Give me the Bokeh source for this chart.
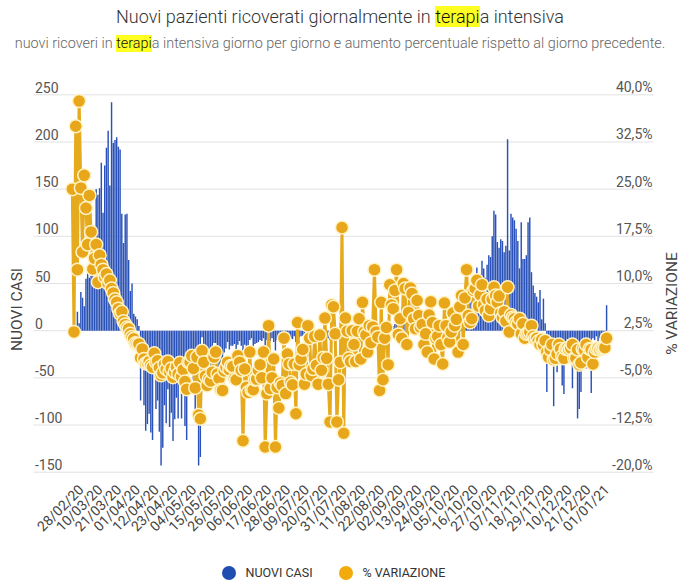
import math
import pandas as pd
from bokeh.plotting import figure
from bokeh.models import (Range1d, ColumnDataSource, Legend, LegendItem, Div)
from bokeh.layouts import column
from bokeh.embed import file_html
from bokeh.resources import INLINE
from bokeh.core.properties import value

# ---------------- data ----------------
TITLE = "Nuovi pazienti ricoverati giornalmente in terapia intensiva"
SUBTITLE = ("nuovi ricoveri in terapia intensiva giorno per giorno e aumento "
            "percentuale rispetto al giorno precedente.")
HIGHLIGHT = "terapi"
START_DATE = "2020-02-24"

nuovi_casi = [
    0, 9, 1, 20, 8, 41, 35, 26, 55, 62,
    56, 60, 65, 58, 150, 144, 151, 178, 125, 175,
    194, 212, 154, 242, 199, 202, 205, 195, 192, 124,
    93, 123, 124, 75, 42, 50, 18, 15, 12, 5,
    -74, -17, -79, -106, -99, -88, -108, -116, -38, -83,
    -74, -107, -143, -124, -79, -98, -62, -102, -87, -117,
    -94, -71, -93, -53, -93, -68, -101, -116, -39, -38,
    -22, -52, -94, -22, -143, -134, -7, -28, -47, -59,
    -38, -47, -33, -13, -13, -33, -40, -36, -45, -23,
    -19, -12, -20, -16, -16, -14, -25, -15,
    -11, -16, -55, -15, -22, -23, -10, -8, -20, -14,
    -13, -12, -10, -11, -8, -29, -10, -9, -11, -8,
    -12, -21, -10, -9, -8, -10, -7, -9, -6, -5,
    -8, -9, -6, -12, -4, -7, -6, -5, -9, -7,
    -3, -4, -8, -7, -3, -6, -9, -3, -7, -5,
    -2, -5, -8, -10, -2, -1, -3, -8, -6, -4,
    2,
    -6, 2, 1, -1, -1, 1, 0, -1, 1, 3,
    -1, 4, 1, 1, 0, 2, 0, 2, 7, 1,
    1, -5, 5, -4, 1, 2, -2, 7, 5, 5,
    7,
    11, 2, 5, 1, 12, 11, 0, 7, 12, 11,
    7, 4, 14, 10, 7, 8, 1, 4, -2, 12,
    17, 9, -5, 3, 4, 8, 1, -7, 17, 9,
    4, 2, 7, 16, 11, 14, -3, 21, 29, 1,
    20, 28, 35, 30, 45, 50, 55, 67, 52, 60,
    74, 66, 56, 70, 80, 78, 100, 127, 123, 94,
    88, 97, 95, 83, 90, 203, 85, 124, 120, 117,
    108, 95, 66, 115, 76, 76, 80, 115, 120, 62,
    48, 40, 36, 30, 43, 12, 34, 8,
    -65, -10, -12, -15, -80, -12, -44, -10, -8, -58,
    -67, -12, -9, -15, -10, -61, -14, -12, -93, -83,
    -65, -10, -14, -40, -9, -12, -66, -8, -10, -6,
    -12, -8, -5, -6, -4, 27,
]

variazione = [
    25.0, 2.3, 35.0, 12.2, 39.0, 25.2, 15.0, 27.2, 22.0, 16.2,
    24.0, 18.2, 12.3, 14.0, 16.2, 10.2, 14.5, 13.0, 12.2, 11.0,
    11.5, 10.0, 10.5, 9.2, 8.5, 7.5, 7.0, 6.0, 5.2, 5.5,
    4.0, 3.5, 3.0, 2.8, 2.0, 1.5, 1.2, 0.5, 0.4, 0.4,
    -1.8,
    -0.4, -2.0, -2.7, -2.6, -2.4, -3.0, -3.3, -1.1, -2.5, -2.3,
    -3.4, -4.6, -4.2, -2.8, -3.6, -2.4, -4.0, -3.5, -4.9, -4.1,
    -3.3, -4.4, -2.6, -4.8, -3.7, -5.6, -6.8, -2.5, -2.5, -1.5,
    -3.5, -6.6, -1.7, -10.9, -11.5,
    -0.7, -2.5, -4.7, -6.2, -5.2, -5.5, -4.1, -1.7, -0.9, -4.4,
    -5.1, -6.9, -7.0, -3.9, -3.3, -2.5, -3.7, -3.1, -3.2, -5.1,
    -5.3, -1.5,
    -2.5, -3.8, -15.0, -3.6, -6.5, -7.3, -0.9, -6.9, -6.9, -5.3,
    -5.2, -3.8, -2.9, -5.0, -0.9, -16.0, -7.5, 3.3, -6.7, -5.0,
    -2.0, -16.0, -6.5, -9.8, -5.8, -6.2, 1.3, -7.5, -1.2, -2.8,
    -5.7, -6.1, -2.8, -10.7, 3.8, -2.9, -2.0, -0.5, -6.0, -4.4,
    3.3, 1.3, -4.6, -3.6, 1.6, -3.0, -6.0, 1.8, -3.8, -1.8,
    4.5, -1.9, -6.0, -12.0, 6.6, 6.3, 2.0, -12.0, -5.3, -2.5,
    18.9, -13.8, 4.5,
    2.4, -1.9, -2.4, 2.5, 0.3, -2.4, 2.4, 4.4, -2.0, 7.0,
    2.3, 1.8, -0.9, 3.3, 0.6, 3.1, 12.2, 2.3, 1.5, -7.0,
    7.0, -5.3, 1.3, 3.0, -2.9, 9.8, 6.6, 6.0, 8.9,
    12.2, 1.9, 4.4, 1.3, 10.0, 9.2, 0.3, 5.4, 9.3, 8.4,
    4.4, 2.8, 7.3, 4.9, 3.0, 3.5, 0.3, 2.0, -0.9, 5.0,
    7.1, 3.8, -2.0, 1.3, 1.6, 3.3, 0.3, -2.8, 6.9, 3.3,
    1.4, 0.7, 2.3, 5.3, 3.3, 4.3, -0.9, 6.3, 8.1, 0.3,
    7.7, 12.2, 4.9, 3.8, 4.4, 8.9, 9.2, 10.5, 6.4, 8.2,
    9.8, 6.6, 5.7, 7.5, 4.9, 6.0, 7.5, 9.4, 8.1, 7.0,
    8.0,
    5.3, 4.6, 5.5, 4.0, 9.4, 2.3, 5.0, 4.6, 4.4, 3.8,
    3.6, 4.4, 2.0, 3.6, 1.3, 2.0, 2.1, 2.3, 3.3, 1.6,
    1.2, 1.3, 0.8, 0.3, 1.1, 0.2, 0.9, -0.9, -1.7, -0.5,
    0.3, -2.1, -1.9, -1.2, 0.3, -0.4, -1.6, -1.9, -0.4, -0.3,
    -0.5, -0.3, 0.3, -1.9, -1.9, -0.5, -2.9, -2.6, -0.4, -0.6,
    0.3, -1.7, -0.4, -0.5, -2.8, -0.9, -0.4, -0.3, -0.5, -0.3,
    -0.2, -0.2, 1.3,
]

x_tick_labels = ["28/02/20", "10/03/20", "21/03/20", "01/04/20", "12/04/20",
                 "23/04/20", "04/05/20", "15/05/20", "26/05/20", "06/06/20",
                 "17/06/20", "28/06/20", "09/07/20", "20/07/20", "31/07/20",
                 "11/08/20", "22/08/20", "02/09/20", "13/09/20", "24/09/20",
                 "05/10/20", "16/10/20", "27/10/20", "07/11/20", "18/11/20",
                 "29/11/20", "10/12/20", "21/12/20", "01/01/21"]

left_ticks = [250, 200, 150, 100, 50, 0, -50, -100, -150]
left_tick_labels = ["250", "200", "150", "100", "50", "0", "-50", "-100", "-150"]
right_ticks = [40.0, 32.5, 25.0, 17.5, 10.0, 2.5, -5.0, -12.5, -20.0]
right_tick_labels = ["40,0%", "32,5%", "25,0%", "17,5%", "10,0%", "2,5%",
                     "-5,0%", "-12,5%", "-20,0%"]

SERIES_1 = "NUOVI CASI"
SERIES_2 = "% VARIAZIONE"

# ---------------- styling / layout ----------------
BLUE = "#2a52b8"
BLUE_LEG = "#1f4db0"
ORANGE = "#e8a71b"
ORANGE_LINE = "#e6aa1e"
ORANGE_LEG = "#f2aa0c"
FONT = "Roboto"
TXT = "#444444"

W, H_DIV, H = 680, 62, 518          # whole page = 680 x 580
PX_DAY = 1.707                       # horizontal pixels per day
X0_PX = 71.8                         # pixel of first day
PX_UNIT = 0.9435                     # vertical pixels per "nuovi casi" unit
Y250_PX = 94.3 - H_DIV               # pixel (inside the plot) of the 250 line

N = len(nuovi_casi)
dates = pd.date_range(START_DATE, periods=N)
date_str = [d.strftime("%d/%m/%y") for d in dates]
idx = list(range(N))
tick_pos = [date_str.index(lbl) for lbl in x_tick_labels]

x_start = -X0_PX / PX_DAY
x_end = x_start + W / PX_DAY
y_end = left_ticks[0] + Y250_PX / PX_UNIT
y_start = y_end - H / PX_UNIT


def to_pct(v):          # right axis: 0 -> 2.5 %, one unit -> 0.15 %
    return 2.5 + 0.15 * v


def px_x(px):           # pixel column -> data x
    return x_start + px / PX_DAY


def px_y(px):           # pixel row (page) -> data y (left units)
    return y_end - (px - H_DIV) / PX_UNIT


src = ColumnDataSource(dict(idx=idx, casi=nuovi_casi, var=variazione))

p = figure(width=W, height=H, x_range=Range1d(x_start, x_end),
           y_range=Range1d(y_start, y_end), x_axis_type=None,
           y_axis_type=None, output_backend="svg", toolbar_location=None,
           min_border=0)
p.extra_y_ranges = {"pct": Range1d(to_pct(y_start), to_pct(y_end))}
p.outline_line_color = None
p.background_fill_color = "white"

# horizontal grid lines of the chart area
gx0, gx1 = px_x(33), px_x(653)
p.segment(x0=[gx0] * len(left_ticks), x1=[gx1] * len(left_ticks),
          y0=left_ticks, y1=left_ticks, line_color="#e2e2e2", line_width=1)

# tick labels above the grid lines
p.text(x=[gx0] * len(left_ticks), y=left_ticks, text=left_tick_labels,
       x_offset=1.5, y_offset=-7.5, text_align="left",
       text_baseline="middle", text_font=value(FONT),
       text_font_size="14px", text_color="#555555")
p.text(x=[gx1] * len(right_ticks), y=right_ticks, text=right_tick_labels,
       y_range_name="pct", x_offset=-1, y_offset=-7.5, text_align="right",
       text_baseline="middle", text_font=value(FONT),
       text_font_size="14px", text_color="#555555")

# axis titles
p.text(x=[px_x(16)], y=[px_y(309)], text=[SERIES_1], angle=math.pi / 2,
       text_align="center", text_baseline="middle", text_font=value(FONT),
       text_font_size="15.5px", text_color=TXT)
p.text(x=[px_x(671)], y=[px_y(303)], text=[SERIES_2], angle=math.pi / 2,
       text_align="center", text_baseline="middle", text_font=value(FONT),
       text_font_size="15.5px", text_color=TXT)

# date labels, slanted, ending at their day
p.text(x=tick_pos, y=[left_ticks[-1]] * len(tick_pos), text=x_tick_labels,
       angle=math.pi / 4, x_offset=2, y_offset=15, text_align="right",
       text_baseline="middle", text_font=value(FONT),
       text_font_size="14px", text_color=TXT)

# bars, line, markers
p.vbar(x="idx", top="casi", bottom=0, width=0.85, source=src,
       fill_color=BLUE, line_color=None)
p.line(x="idx", y="var", source=src, y_range_name="pct",
       line_color=ORANGE_LINE, line_width=3)
p.scatter(x="idx", y="var", source=src, y_range_name="pct", size=13,
          fill_color=ORANGE, line_color="#fff3c4", line_width=1.5)

# legend with circle icons (proxy renderers hold a single NaN point)
nan = float("nan")
leg_b = p.scatter(x=[nan], y=[nan], size=14, fill_color=BLUE_LEG,
                  line_color=None)
leg_o = p.scatter(x=[nan], y=[nan], size=14, fill_color=ORANGE_LEG,
                  line_color=None)
legend = Legend(items=[LegendItem(label=SERIES_1, renderers=[leg_b]),
                       LegendItem(label=SERIES_2, renderers=[leg_o])],
                location=(210.5, H - (572 - H_DIV) - 17.5),
                orientation="horizontal",
                glyph_width=35, glyph_height=35, label_standoff=0,
                spacing=15, padding=0, margin=0,
                border_line_color=None, background_fill_alpha=0,
                label_text_font=FONT, label_text_font_size="12.5px",
                label_text_color="#333333")
p.add_layout(legend)


def hl(text):
    return text.replace(HIGHLIGHT,
                        '<span style="background:#ffff22;color:#111;">%s</span>'
                        % HIGHLIGHT, 1)


html = (
    '<div style="width:%dpx;text-align:center;font-family:Roboto,sans-serif;'
    'padding-top:6px;">'
    '<div style="font-size:18px;font-weight:300;color:#333;line-height:22px;">%s</div>'
    '<div style="font-size:14.4px;font-weight:300;color:#666;line-height:18px;'
    'margin-top:7px;white-space:nowrap;">%s</div></div>'
    % (W, hl(TITLE), hl(SUBTITLE))
)
header = Div(text=html, width=W, height=H_DIV, margin=0)

layout = column(header, p, spacing=0)
open("out.html", "w").write(file_html(layout, INLINE))
